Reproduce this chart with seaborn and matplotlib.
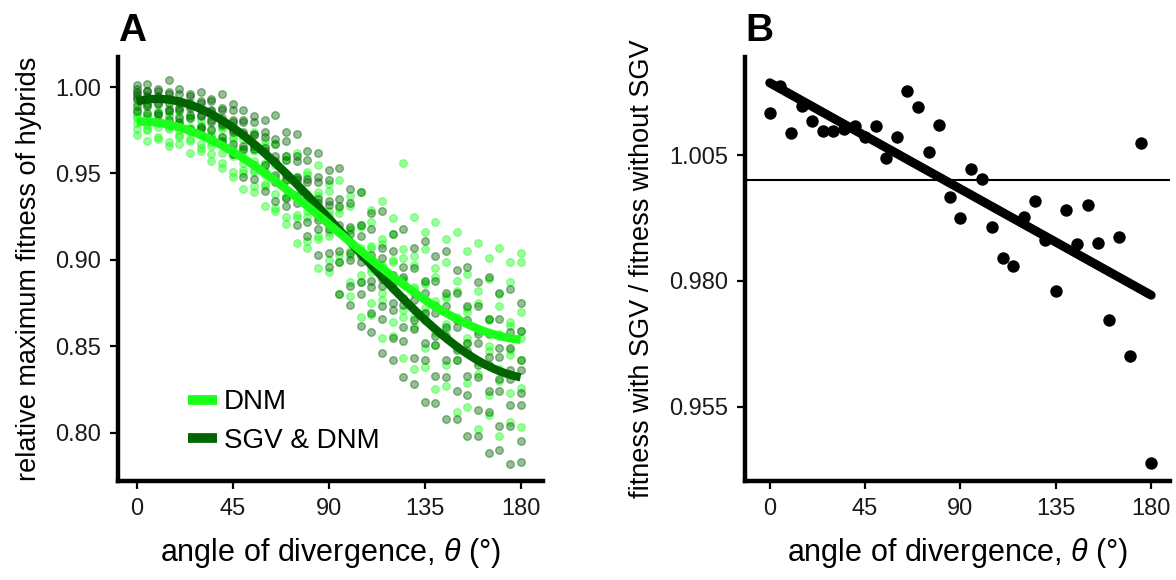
import numpy as np
import pandas as pd
import matplotlib
matplotlib.use("Agg")
import matplotlib.pyplot as plt
from matplotlib.lines import Line2D
import seaborn as sns

# ---------------- data ----------------
angles = list(range(0, 181, 5))

# Panel A: relative maximum fitness of hybrids, replicate runs per angle
dnm_fitness = [
    [0.991, 0.987, 0.985, 0.983, 0.982, 0.979, 0.976, 0.972],
    [0.989, 0.984, 0.983, 0.982, 0.978, 0.976, 0.975, 0.969],
    [0.986, 0.985, 0.981, 0.980, 0.979, 0.977, 0.971, 0.970],
    [0.988, 0.984, 0.983, 0.978, 0.977, 0.976, 0.968, 0.966],
    [0.986, 0.983, 0.979, 0.978, 0.975, 0.972, 0.971, 0.967],
    [0.983, 0.982, 0.977, 0.975, 0.974, 0.970, 0.969, 0.962],
    [0.981, 0.978, 0.977, 0.973, 0.972, 0.967, 0.965, 0.963],
    [0.983, 0.976, 0.972, 0.971, 0.968, 0.966, 0.961, 0.957],
    [0.977, 0.976, 0.971, 0.968, 0.967, 0.962, 0.956, 0.953],
    [0.978, 0.971, 0.970, 0.965, 0.961, 0.960, 0.951, 0.948],
    [0.972, 0.970, 0.964, 0.963, 0.956, 0.952, 0.950, 0.941],
    [0.974, 0.964, 0.963, 0.957, 0.952, 0.951, 0.943, 0.939],
    [0.969, 0.966, 0.956, 0.955, 0.949, 0.944, 0.943, 0.931],
    [0.967, 0.957, 0.955, 0.948, 0.946, 0.938, 0.930, 0.928],
    [0.960, 0.958, 0.947, 0.946, 0.937, 0.936, 0.925, 0.921],
    [0.962, 0.948, 0.946, 0.938, 0.936, 0.926, 0.924, 0.910],
    [0.951, 0.949, 0.938, 0.936, 0.928, 0.925, 0.911, 0.907],
    [0.955, 0.939, 0.937, 0.928, 0.925, 0.914, 0.912, 0.895],
    [0.944, 0.940, 0.928, 0.926, 0.916, 0.914, 0.900, 0.893],
    [0.946, 0.930, 0.927, 0.917, 0.916, 0.903, 0.899, 0.880],
    [0.937, 0.931, 0.918, 0.917, 0.905, 0.902, 0.887, 0.879],
    [0.939, 0.920, 0.919, 0.907, 0.905, 0.891, 0.887, 0.867],
    [0.929, 0.922, 0.908, 0.907, 0.895, 0.893, 0.875, 0.868],
    [0.934, 0.912, 0.909, 0.897, 0.896, 0.881, 0.877, 0.855],
    [0.924, 0.915, 0.900, 0.899, 0.885, 0.883, 0.864, 0.856],
    [0.956, 0.906, 0.901, 0.889, 0.888, 0.871, 0.867, 0.843],
    [0.925, 0.902, 0.897, 0.884, 0.883, 0.867, 0.861, 0.837],
    [0.916, 0.906, 0.887, 0.886, 0.872, 0.869, 0.849, 0.838],
    [0.922, 0.895, 0.890, 0.876, 0.874, 0.858, 0.851, 0.825],
    [0.912, 0.899, 0.879, 0.878, 0.863, 0.860, 0.839, 0.827],
    [0.916, 0.888, 0.882, 0.867, 0.866, 0.849, 0.842, 0.812],
    [0.905, 0.892, 0.872, 0.870, 0.855, 0.852, 0.829, 0.815],
    [0.910, 0.882, 0.875, 0.860, 0.859, 0.841, 0.834, 0.802],
    [0.901, 0.889, 0.866, 0.865, 0.850, 0.847, 0.822, 0.810],
    [0.907, 0.880, 0.873, 0.857, 0.856, 0.837, 0.830, 0.798],
    [0.899, 0.887, 0.864, 0.862, 0.848, 0.845, 0.823, 0.806],
    [0.904, 0.899, 0.870, 0.859, 0.855, 0.842, 0.826, 0.803],
]
sgv_fitness = [
    [1.001, 0.999, 0.997, 0.996, 0.994, 0.993, 0.989, 0.986],
    [1.002, 0.998, 0.998, 0.995, 0.994, 0.990, 0.989, 0.985],
    [0.999, 0.998, 0.995, 0.994, 0.991, 0.990, 0.985, 0.984],
    [1.004, 0.997, 0.996, 0.993, 0.991, 0.987, 0.986, 0.981],
    [0.999, 0.996, 0.992, 0.991, 0.988, 0.987, 0.982, 0.980],
    [0.996, 0.995, 0.991, 0.989, 0.988, 0.984, 0.982, 0.976],
    [0.997, 0.992, 0.991, 0.987, 0.984, 0.983, 0.977, 0.976],
    [0.993, 0.992, 0.987, 0.986, 0.981, 0.980, 0.975, 0.970],
    [0.996, 0.988, 0.987, 0.982, 0.979, 0.978, 0.971, 0.969],
    [0.990, 0.987, 0.981, 0.980, 0.975, 0.974, 0.967, 0.961],
    [0.987, 0.981, 0.980, 0.974, 0.973, 0.966, 0.964, 0.948],
    [0.983, 0.980, 0.973, 0.972, 0.966, 0.964, 0.955, 0.947],
    [0.981, 0.974, 0.971, 0.965, 0.963, 0.955, 0.951, 0.940],
    [0.984, 0.970, 0.967, 0.960, 0.957, 0.949, 0.945, 0.934],
    [0.974, 0.969, 0.960, 0.958, 0.949, 0.946, 0.936, 0.931],
    [0.973, 0.960, 0.957, 0.948, 0.947, 0.937, 0.933, 0.920],
    [0.963, 0.958, 0.947, 0.945, 0.936, 0.934, 0.922, 0.914],
    [0.962, 0.948, 0.945, 0.935, 0.933, 0.923, 0.918, 0.903],
    [0.952, 0.946, 0.934, 0.932, 0.921, 0.918, 0.904, 0.896],
    [0.953, 0.935, 0.931, 0.920, 0.917, 0.905, 0.899, 0.880],
    [0.941, 0.933, 0.919, 0.915, 0.904, 0.900, 0.885, 0.874],
    [0.939, 0.920, 0.914, 0.902, 0.899, 0.887, 0.880, 0.862],
    [0.927, 0.918, 0.903, 0.899, 0.888, 0.884, 0.869, 0.858],
    [0.928, 0.907, 0.901, 0.889, 0.885, 0.873, 0.866, 0.846],
    [0.915, 0.905, 0.891, 0.887, 0.875, 0.871, 0.855, 0.842],
    [0.918, 0.896, 0.890, 0.878, 0.874, 0.861, 0.853, 0.832],
    [0.907, 0.895, 0.881, 0.877, 0.865, 0.860, 0.843, 0.828],
    [0.911, 0.888, 0.881, 0.869, 0.865, 0.852, 0.842, 0.818],
    [0.902, 0.888, 0.873, 0.869, 0.856, 0.851, 0.833, 0.817],
    [0.905, 0.881, 0.873, 0.861, 0.856, 0.842, 0.832, 0.808],
    [0.894, 0.881, 0.865, 0.861, 0.848, 0.842, 0.824, 0.808],
    [0.896, 0.873, 0.865, 0.852, 0.847, 0.833, 0.822, 0.798],
    [0.887, 0.873, 0.857, 0.852, 0.839, 0.832, 0.813, 0.798],
    [0.890, 0.866, 0.857, 0.844, 0.839, 0.824, 0.812, 0.788],
    [0.881, 0.866, 0.849, 0.844, 0.831, 0.824, 0.804, 0.790],
    [0.883, 0.858, 0.849, 0.836, 0.831, 0.816, 0.804, 0.782],
    [0.875, 0.859, 0.842, 0.836, 0.823, 0.816, 0.795, 0.783],
]

# Panel B: fitness with SGV / fitness without SGV, one value per angle
ratio_values = [
    1.0133, 1.0187, 1.0094, 1.0148, 1.0118, 1.0098, 1.0098, 1.0102,
    1.0107, 1.0085, 1.0107, 1.0045, 1.0085, 1.0177, 1.0146, 1.0057,
    1.0110, 0.9966, 0.9925, 1.0022, 1.0003, 0.9908, 0.9846, 0.9830,
    0.9926, 0.9958, 0.9882, 0.9780, 0.9941, 0.9873, 0.9951, 0.9875,
    0.9723, 0.9887, 0.9651, 1.0074, 0.9437,
]

group_labels = ["DNM", "SGV & DNM"]
group_colors = {"DNM": "#19ff19", "SGV & DNM": "#006400"}
xticks = [0, 45, 90, 135, 180]
yticks_a = [0.80, 0.85, 0.90, 0.95, 1.00]
yticks_b = [0.955, 0.980, 1.005]

# ---------------- build tables ----------------
rows = []
for g, vals in zip(group_labels, [dnm_fitness, sgv_fitness]):
    for a, reps in zip(angles, vals):
        for v in reps:
            rows.append((g, a, v))
df_a = pd.DataFrame(rows, columns=["group", "angle", "fitness"])
df_b = pd.DataFrame({"angle": angles, "ratio": ratio_values})

# ---------------- style ----------------
sns.set_theme(style="ticks")
plt.rcParams["font.family"] = ["Liberation Sans", "DejaVu Sans"]
plt.rcParams["mathtext.fontset"] = "custom"
plt.rcParams["mathtext.it"] = "Liberation Sans:italic"
plt.rcParams["mathtext.rm"] = "Liberation Sans"
plt.rcParams["text.color"] = "black"
plt.rcParams["axes.labelcolor"] = "black"

fig = plt.figure(figsize=(11.76, 5.80), dpi=100)
axA = fig.add_axes([0.1003, 0.1707, 0.3614, 0.7310])
axB = fig.add_axes([0.6335, 0.1707, 0.3614, 0.7310])

# ---------------- panel A ----------------
for g in group_labels:
    sub = df_a[df_a["group"] == g]
    sns.scatterplot(data=sub, x="angle", y="fitness", ax=axA, color=group_colors[g],
                    alpha=0.42, s=30, edgecolor=group_colors[g], linewidth=1.0,
                    legend=False, zorder=2)
for g in ["SGV & DNM", "DNM"]:
    sub = df_a[df_a["group"] == g]
    sns.regplot(data=sub, x="angle", y="fitness", ax=axA, order=3, ci=None,
                scatter=False, line_kws=dict(color=group_colors[g], lw=6,
                                             solid_capstyle="butt", zorder=3))

axA.set_xlim(-8.8, 190.5)
axA.set_ylim(0.772, 1.0174)
axA.set_xticks(xticks)
axA.set_yticks(yticks_a)
axA.set_yticklabels([f"{t:.2f}" for t in yticks_a])
axA.set_ylabel("relative maximum fitness of hybrids", fontsize=19.5, labelpad=10)
handles = [Line2D([0], [0], color=group_colors[g], lw=7, solid_capstyle="butt")
           for g in group_labels]
axA.legend(handles, group_labels, loc="lower left", bbox_to_anchor=(0.106, 0.005),
           frameon=False, fontsize=20, handlelength=1.05, handletextpad=0.25,
           labelspacing=0.45)

# ---------------- panel B ----------------
axB.axhline(1.0, color="black", lw=1.5, zorder=1)
sns.regplot(data=df_b, x="angle", y="ratio", ax=axB, ci=None, color="black",
            scatter_kws=dict(s=80, alpha=1, linewidths=0, zorder=3),
            line_kws=dict(lw=6.5, zorder=4))
axB.set_xlim(-11.7, 188.9)
axB.set_ylim(0.9402, 1.0245)
axB.set_xticks(xticks)
axB.set_yticks(yticks_b)
axB.set_yticklabels([f"{t:.3f}" for t in yticks_b])
axB.set_ylabel("fitness with SGV / fitness without SGV", fontsize=19.5, labelpad=10)

for ax, lab in [(axA, "A"), (axB, "B")]:
    sns.despine(ax=ax)
    ax.spines["left"].set_linewidth(3.2)
    ax.spines["bottom"].set_linewidth(3.2)
    ax.spines["left"].set_color("black")
    ax.spines["bottom"].set_color("black")
    ax.tick_params(axis="both", direction="out", length=6, width=1.6,
                   labelsize=17, color="black", labelcolor="#1a1a1a", pad=6)
    ax.set_xlabel(r"angle of divergence, $\it{\theta}$ (°)", fontsize=22, labelpad=12)
    ax.text(-0.0, 1.02, lab, transform=ax.transAxes, fontsize=28,
            fontweight="bold", ha="left", va="bottom", color="black")

fig.savefig("out.png", dpi=100)
